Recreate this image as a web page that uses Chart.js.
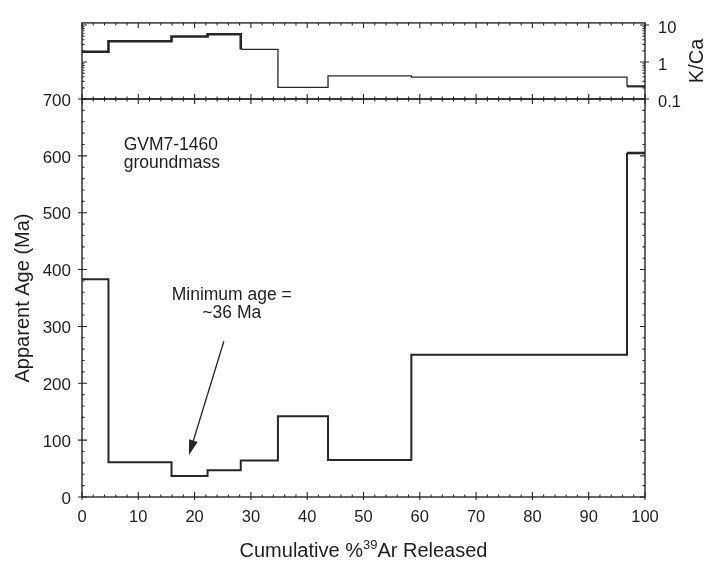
<!DOCTYPE html>
<html lang="en">
<head>
<meta charset="UTF-8" />
<title>GVM7-1460 groundmass age spectrum</title>
<script src="https://cdn.jsdelivr.net/npm/chart.js"></script>
<style>
  * { box-sizing: border-box; margin: 0; padding: 0; }
  body { background: #fff; width: 713px; height: 561px; overflow: hidden; }
  .wrap { position: relative; width: 713px; height: 561px; }
  .wrap canvas { position: absolute; left: 0; top: 0; }
</style>
</head>
<body>
<div class="wrap">
  <canvas id="kcaChart" width="713" height="561"></canvas>
  <canvas id="ageChart" width="713" height="561"></canvas>
</div>
<script>
// left edge of every heating step, cumulative % 39Ar released
const stepEdges = [0, 4.7, 15.9, 22.3, 28.2, 34.8, 43.7, 58.5, 96.8, 100];
// apparent age of each step (Ma)
const apparentAge = [383, 61, 37, 47, 64, 142, 65, 250, 605];
// K/Ca of each step
const kCaRatio = [1.9, 3.65, 4.9, 5.6, 2.2, 0.205, 0.42, 0.39, 0.22];

const xTickLabels = [0, 10, 20, 30, 40, 50, 60, 70, 80, 90, 100];
const ageTickLabels = [0, 100, 200, 300, 400, 500, 600, 700];
const kCaTickLabels = [0.1, 1, 10];

// annotations, in data units of the age panel
const sampleLabel = ['GVM7-1460', 'groundmass'];
const sampleLabelAt = { x: 7.4, y: 619 };
const minAgeNote = ['Minimum age =', '~36 Ma'];
const minAgeNoteAt = { x: 26.6, y: 355 };
const arrowFrom = { x: 25.2, y: 274 };
const arrowTo = { x: 19.0, y: 74 };

const ink = '#262626';
const fontFamily = "'Liberation Sans', Arial, Helvetica, sans-serif";
Chart.defaults.font.family = fontFamily;
Chart.defaults.color = '#1e1e1e';

// step points: one per left edge, last value repeated at 100 %
function stepPoints(values) {
    return stepEdges.map((x, i) => ({ x: x, y: values[Math.min(i, values.length - 1)] }));
}

// tick mark lists (every 2 % on x, every 20 Ma on age, 2..9 on log K/Ca)
const xMarks = [];
for (let v = 0; v <= 100; v += 2) xMarks.push({ v: v, major: v % 10 === 0 });
const ageMarks = [];
for (let v = 0; v <= 700; v += 20) ageMarks.push({ v: v, major: v % 100 === 0 });
const kCaMarks = [];
[0.1, 1].forEach(d => {
    kCaMarks.push({ v: d, major: true });
    for (let k = 2; k <= 9; k++) kCaMarks.push({ v: d * k, major: false });
});
kCaMarks.push({ v: 10, major: true });

// frame + inward ticks on all four sides
function drawFrame(chart, yMarks, outLeft, outRight, outBottom) {
    const { ctx, chartArea: a } = chart;
    const xs = chart.scales.x, ys = chart.scales.y;
    ctx.save();
    ctx.strokeStyle = ink;
    ctx.lineWidth = 1.4;
    ctx.strokeRect(a.left, a.top, a.right - a.left, a.bottom - a.top);
    ctx.lineWidth = 1.1;
    ctx.beginPath();
    xMarks.forEach(t => {
        const px = xs.getPixelForValue(t.v);
        const len = t.major ? 5 : 2.5;
        ctx.moveTo(px, a.bottom + (t.major ? outBottom : 0));
        ctx.lineTo(px, a.bottom - len);
        ctx.moveTo(px, a.top);
        ctx.lineTo(px, a.top + len);
    });
    yMarks.forEach(t => {
        const py = ys.getPixelForValue(t.v);
        const len = t.major ? 5 : 2.5;
        ctx.moveTo(a.left - (t.major ? outLeft : 0), py);
        ctx.lineTo(a.left + len, py);
        ctx.moveTo(a.right + (t.major ? outRight : 0), py);
        ctx.lineTo(a.right - len, py);
    });
    ctx.stroke();
    ctx.restore();
}

const kCaFrame = {
    id: 'kCaFrame',
    afterDraw(chart) {
        drawFrame(chart, kCaMarks, 0, 4, 0);
        const ctx = chart.ctx, a = chart.chartArea;
        ctx.save();
        ctx.fillStyle = '#1e1e1e';
        ctx.font = '20px ' + fontFamily;
        ctx.textAlign = 'center';
        ctx.textBaseline = 'middle';
        ctx.translate(697, (a.top + a.bottom) / 2);
        ctx.rotate(-Math.PI / 2);
        ctx.fillText('K/Ca', 0, 0);
        ctx.restore();
    }
};

const ageFrame = {
    id: 'ageFrame',
    afterDraw(chart) {
        drawFrame(chart, ageMarks, 4, 0, 3);
        const { ctx, chartArea: a } = chart;
        const xs = chart.scales.x, ys = chart.scales.y;
        ctx.save();
        ctx.fillStyle = '#1e1e1e';
        ctx.textBaseline = 'middle';

        // sample name
        ctx.font = '17.5px ' + fontFamily;
        ctx.textAlign = 'left';
        sampleLabel.forEach((s, i) => {
            ctx.fillText(s, xs.getPixelForValue(sampleLabelAt.x), ys.getPixelForValue(sampleLabelAt.y) + i * 18);
        });

        // minimum age note
        ctx.textAlign = 'center';
        minAgeNote.forEach((s, i) => {
            ctx.fillText(s, xs.getPixelForValue(minAgeNoteAt.x), ys.getPixelForValue(minAgeNoteAt.y) + i * 18);
        });

        // arrow
        const x0 = xs.getPixelForValue(arrowFrom.x), y0 = ys.getPixelForValue(arrowFrom.y);
        const x1 = xs.getPixelForValue(arrowTo.x), y1 = ys.getPixelForValue(arrowTo.y);
        const ang = Math.atan2(y1 - y0, x1 - x0);
        const hl = 15, hw = 4.5;
        ctx.strokeStyle = ink;
        ctx.lineWidth = 1.3;
        ctx.beginPath();
        ctx.moveTo(x0, y0);
        ctx.lineTo(x1 - Math.cos(ang) * hl * 0.8, y1 - Math.sin(ang) * hl * 0.8);
        ctx.stroke();
        ctx.beginPath();
        ctx.moveTo(x1, y1);
        ctx.lineTo(x1 - Math.cos(ang) * hl - Math.sin(ang) * hw, y1 - Math.sin(ang) * hl + Math.cos(ang) * hw);
        ctx.lineTo(x1 - Math.cos(ang) * hl + Math.sin(ang) * hw, y1 - Math.sin(ang) * hl - Math.cos(ang) * hw);
        ctx.closePath();
        ctx.fillStyle = ink;
        ctx.fill();

        // x axis title with superscript 39
        const big = '20px ' + fontFamily, small = '13px ' + fontFamily;
        const p1 = 'Cumulative %', p2 = '39', p3 = 'Ar Released';
        ctx.font = big;
        const w1 = ctx.measureText(p1).width, w3 = ctx.measureText(p3).width;
        ctx.font = small;
        const w2 = ctx.measureText(p2).width;
        let tx = (a.left + a.right) / 2 - (w1 + w2 + w3) / 2;
        const base = 557;
        ctx.fillStyle = '#1e1e1e';
        ctx.textAlign = 'left';
        ctx.textBaseline = 'alphabetic';
        ctx.font = big;
        ctx.fillText(p1, tx, base);
        tx += w1;
        ctx.font = small;
        ctx.fillText(p2, tx, base - 8);
        tx += w2;
        ctx.font = big;
        ctx.fillText(p3, tx, base);
        ctx.restore();
    }
};

const noGrid = { display: false, drawTicks: false };

new Chart(document.getElementById('kcaChart'), {
    type: 'line',
    data: {
        datasets: [{
            data: stepPoints(kCaRatio),
            stepped: true,
            borderColor: ink,
            borderWidth: 1.3,
            segment: {
                borderWidth: c => c.p0DataIndex < 4 ? 2.6 : (c.p0DataIndex >= 8 ? 2.2 : 1.3)
            },
            pointRadius: 0,
            fill: false
        }]
    },
    options: {
        responsive: false,
        animation: false,
        layout: { padding: { left: 82, top: 17, right: 0, bottom: 462 } },
        plugins: { legend: { display: false }, tooltip: { enabled: false } },
        scales: {
            x: {
                type: 'linear', min: 0, max: 100,
                grid: noGrid, border: { display: false },
                ticks: { display: false },
                afterFit(s) { s.height = 0; }
            },
            y: {
                type: 'logarithmic', position: 'right', min: 0.1, max: 11.4,
                grid: noGrid, border: { display: false },
                afterBuildTicks(s) { s.ticks = kCaTickLabels.map(v => ({ value: v })); },
                ticks: {
                    autoSkip: false, padding: 13, labelOffset: 3, font: { size: 16.5 },
                    callback: v => String(v)
                },
                afterFit(s) { s.width = 68; }
            }
        }
    },
    plugins: [kCaFrame]
});

new Chart(document.getElementById('ageChart'), {
    type: 'line',
    data: {
        datasets: [{
            data: stepPoints(apparentAge),
            stepped: true,
            borderColor: ink,
            borderWidth: 2,
            segment: {
                borderWidth: c => c.p0DataIndex >= 8 ? 2.6 : 2
            },
            pointRadius: 0,
            fill: false
        }]
    },
    options: {
        responsive: false,
        animation: false,
        layout: { padding: { left: 0, top: 99, right: 68, bottom: 0 } },
        plugins: { legend: { display: false }, tooltip: { enabled: false } },
        scales: {
            x: {
                type: 'linear', min: 0, max: 100,
                grid: noGrid, border: { display: false },
                afterBuildTicks(s) { s.ticks = xTickLabels.map(v => ({ value: v })); },
                ticks: { autoSkip: false, maxRotation: 0, padding: 11, font: { size: 16.5 } },
                afterFit(s) { s.height = 64; }
            },
            y: {
                type: 'linear', min: 0, max: 700,
                grid: noGrid, border: { display: false },
                afterBuildTicks(s) { s.ticks = ageTickLabels.map(v => ({ value: v })); },
                ticks: { autoSkip: false, padding: 11, labelOffset: 2, font: { size: 17 } },
                title: {
                    display: true, text: 'Apparent Age (Ma)',
                    font: { size: 20 }, padding: { top: 11, bottom: 0 }
                },
                afterFit(s) { s.width = 82; }
            }
        }
    },
    plugins: [ageFrame]
});
</script>
</body>
</html>
